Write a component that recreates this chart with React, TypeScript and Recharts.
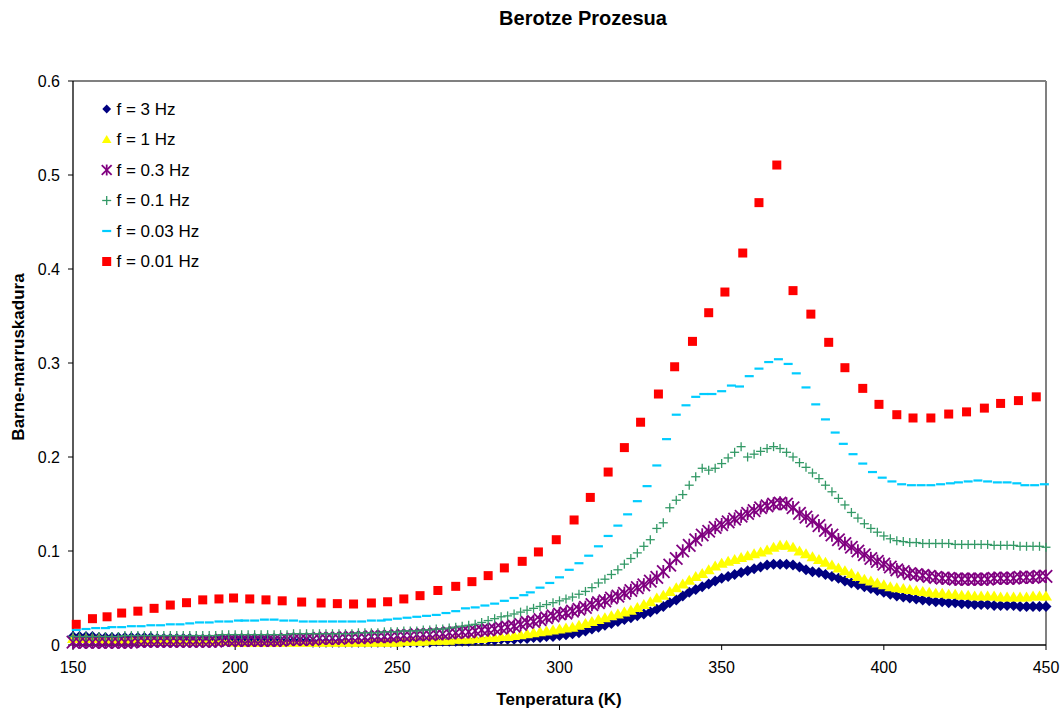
import React from 'react';
import { ScatterChart, Scatter, XAxis, YAxis, ReferenceLine } from 'recharts';

const FONT = '"Liberation Sans", Arial, sans-serif';
const W = 1061;
const H = 708;

// temperature grid of the dense series (K)
const tempGrid = [
  150, 152, 154, 156, 158, 160, 162, 164, 166, 168,
  170, 172, 174, 176, 178, 180, 182, 184, 186, 188,
  190, 192, 194, 196, 198, 200, 202, 204, 206, 208,
  210, 212, 214, 216, 218, 220, 222, 224, 226, 228,
  230, 232, 234, 236, 238, 240, 242, 244, 246, 248,
  250, 252, 254, 256, 258, 260, 262, 264, 266, 268,
  270, 272, 274, 276, 278, 280, 282, 284, 286, 288,
  290, 292, 294, 296, 298, 300, 302, 304, 306, 308,
  310, 312, 314, 316, 318, 320, 322, 324, 326, 328,
  330, 332, 334, 336, 338, 340, 342, 344, 346, 348,
  350, 352, 354, 356, 358, 360, 362, 364, 366, 368,
  370, 372, 374, 376, 378, 380, 382, 384, 386, 388,
  390, 392, 394, 396, 398, 400, 402, 404, 406, 408,
  410, 412, 414, 416, 418, 420, 422, 424, 426, 428,
  430, 432, 434, 436, 438, 440, 442, 444, 446, 448,
  450,
];

const f3Hz = [
  .009, .009, .009, .009, .008, .008, .008, .008, .008, .008,
  .008, .008, .008, .007, .007, .007, .007, .007, .007, .006,
  .006, .006, .006, .006, .005, .005, .005, .005, .005, .005,
  .005, .004, .004, .004, .004, .004, .004, .003, .003, .003,
  .003, .003, .003, .003, .003, .003, .003, .003, .003, .003,
  .003, .003, .003, .003, .003, .003, .004, .004, .004, .004,
  .004, .004, .005, .005, .005, .005, .006, .006, .006, .007,
  .007, .008, .008, .009, .009, .010, .011, .012, .013, .015,
  .017, .019, .021, .023, .025, .027, .029, .031, .033, .035,
  .038, .041, .045, .048, .052, .056, .059, .062, .065, .068,
  .071, .073, .075, .077, .079, .081, .083, .085, .086, .086,
  .086, .085, .083, .080, .078, .077, .075, .073, .071, .068,
  .066, .064, .062, .060, .058, .056, .054, .052, .051, .050,
  .049, .048, .047, .046, .046, .045, .045, .044, .044, .043,
  .043, .043, .042, .042, .042, .042, .041, .041, .041, .041,
  .041,
];

const f1Hz = [
  .007, .007, .007, .007, .007, .006, .006, .006, .006, .006,
  .006, .005, .005, .005, .005, .005, .005, .004, .004, .004,
  .004, .004, .004, .004, .004, .003, .003, .003, .003, .003,
  .003, .003, .003, .003, .003, .003, .003, .003, .003, .003,
  .003, .003, .003, .003, .003, .003, .003, .003, .003, .003,
  .003, .004, .004, .004, .004, .005, .005, .005, .005, .006,
  .006, .006, .007, .007, .008, .008, .009, .009, .010, .011,
  .012, .013, .014, .015, .016, .017, .018, .019, .021, .023,
  .025, .027, .029, .031, .033, .035, .037, .040, .043, .046,
  .050, .053, .057, .061, .065, .069, .073, .076, .080, .084,
  .087, .089, .091, .093, .095, .097, .099, .101, .104, .106,
  .106, .104, .100, .097, .094, .091, .088, .085, .082, .079,
  .076, .073, .070, .068, .066, .064, .062, .061, .060, .059,
  .058, .057, .056, .055, .055, .054, .054, .053, .053, .052,
  .052, .052, .052, .051, .051, .051, .051, .051, .052, .052,
  .052,
];

const f03Hz = [
  .003, .003, .003, .003, .003, .003, .003, .003, .003, .003,
  .004, .004, .004, .004, .004, .004, .004, .004, .004, .004,
  .004, .004, .004, .005, .005, .005, .005, .005, .005, .005,
  .005, .005, .005, .006, .006, .006, .006, .006, .007, .007,
  .007, .007, .008, .008, .008, .008, .009, .009, .009, .009,
  .010, .010, .010, .011, .011, .011, .012, .012, .013, .013,
  .014, .014, .015, .016, .016, .017, .018, .019, .020, .022,
  .024, .025, .027, .029, .031, .033, .034, .036, .038, .040,
  .043, .045, .047, .050, .052, .055, .058, .061, .064, .068,
  .072, .078, .085, .092, .100, .106, .112, .117, .121, .125,
  .128, .131, .134, .137, .140, .143, .146, .148, .150, .151,
  .150, .146, .140, .136, .132, .127, .122, .117, .112, .108,
  .104, .100, .096, .092, .089, .086, .083, .080, .078, .076,
  .075, .074, .073, .072, .071, .071, .070, .070, .070, .070,
  .070, .070, .071, .071, .071, .071, .072, .072, .072, .073,
  .073,
];

const f01Hz = [
  .009, .009, .009, .009, .009, .009, .009, .009, .010, .010,
  .010, .010, .010, .010, .010, .010, .010, .010, .010, .010,
  .010, .010, .010, .011, .011, .011, .011, .011, .011, .011,
  .011, .011, .011, .011, .012, .012, .012, .012, .012, .012,
  .012, .012, .012, .012, .013, .013, .013, .013, .014, .014,
  .014, .015, .015, .015, .016, .016, .017, .017, .018, .019,
  .020, .021, .022, .024, .026, .028, .030, .031, .033, .035,
  .037, .039, .041, .043, .045, .047, .049, .051, .054, .057,
  .061, .066, .070, .075, .080, .086, .092, .098, .105, .112,
  .124, .130, .146, .154, .160, .170, .179, .188, .186, .188,
  .193, .199, .205, .211, .200, .203, .206, .209, .211, .209,
  .205, .200, .194, .189, .183, .177, .170, .163, .156, .149,
  .141, .135, .129, .124, .120, .116, .113, .111, .110, .109,
  .109, .108, .108, .108, .108, .108, .107, .107, .107, .107,
  .107, .107, .106, .106, .106, .106, .105, .105, .105, .105,
  .104,
];

const f003Temps = [
  151, 154, 157, 160, 162, 165, 168, 171, 174, 177,
  180, 183, 186, 189, 192, 195, 198, 201, 203, 206,
  209, 212, 215, 218, 221, 224, 227, 230, 233, 236,
  239, 242, 245, 247, 250, 253, 256, 259, 262, 265,
  268, 271, 274, 277, 280, 283, 286, 289, 291, 294,
  297, 300, 303, 306, 309, 312,
  315, 318, 321, 324, 327, 330, 333, 336, 339, 342,
  344.5, 347, 350, 353, 355.5, 358.5, 361.5, 364.5, 367.5, 370.5,
  373, 376, 379, 382, 385, 387.5, 390.5, 393.5, 396.5, 399.5,
  402.5, 405.5, 408.5, 411.5, 414.5, 417.5, 420.5, 423, 426, 429,
  432, 435, 438, 441, 443.5, 446.5, 449.5,
];
const f003Hz = [
  .016, .017, .018, .018, .019, .019, .020, .020, .021, .021,
  .022, .022, .023, .024, .024, .025, .025, .026, .026, .026,
  .027, .027, .026, .026, .025, .025, .025, .025, .025, .025,
  .025, .026, .026, .027, .028, .029, .030, .031, .032, .034,
  .036, .039, .040, .042, .044, .047, .050, .053, .056, .061,
  .066, .072, .080, .087, .095, .105,
  .116, .127, .139, .153, .169, .191, .219, .245, .255, .264,
  .267, .267, .270, .276, .275, .286, .294, .301, .304, .299,
  .289, .274, .256, .240, .226, .214, .203, .193, .184, .178,
  .174, .171, .170, .170, .170, .171, .172, .173, .174, .175,
  .174, .173, .173, .172, .170, .170, .171,
];

const f001Temps = [
  151, 156, 160.5, 165, 170, 175, 180, 185, 190, 195,
  199.5, 204.5, 209.5, 214.5, 220.5, 226.5, 231.5, 236.5, 242, 247,
  252, 257, 262.5, 268, 273, 278, 283, 288.5, 293.5, 299,
  304.5, 309.5, 315, 320, 325, 330.5, 335.5, 341, 346, 351,
  356.5, 361.5, 367, 372, 377.5, 383, 388, 393.5, 398.5, 404,
  409, 414.5, 420, 425.5, 431, 436, 441.5, 447,
];
const f001Hz = [
  .022, .028, .030, .034, .036, .039, .0425, .045, .048, .049,
  .050, .049, .048, .047, .0457, .0447, .044, .0436, .0447, .046,
  .049, .0525, .058, .0624, .0674, .0738, .082, .089, .099, .112,
  .133, .157, .184, .210, .237, .267, .296, .323, .3535, .3755,
  .417, .4706, .5106, .377, .352, .322, .295, .273, .256, .245,
  .2415, .2415, .2457, .248, .252, .257, .260, .264,
];

const xTicks = [150, 200, 250, 300, 350, 400, 450];
const yTicks = [0, 0.1, 0.2, 0.3, 0.4, 0.5, 0.6];

const seriesNames = ['f = 3 Hz', 'f = 1 Hz', 'f = 0.3 Hz', 'f = 0.1 Hz', 'f = 0.03 Hz', 'f = 0.01 Hz'];
const seriesColors = ['#000080', '#FFFF00', '#800080', '#339966', '#00CCFF', '#FF0000'];
const seriesKinds = ['diamond', 'triangle', 'star', 'plus', 'dash', 'square'];

const zip = (ts: number[], vs: number[]) => ts.map((t, i) => ({ t, v: vs[i] }));

// s = scale: 1 for the plotted points, smaller for the legend keys
function marker(kind: string, cx: number, cy: number, color: string, s = 1) {
  if (cx == null || cy == null) return <g />;
  switch (kind) {
    case 'diamond': {
      const r = 5.5 * s;
      return <polygon points={`${cx},${cy - r} ${cx + r},${cy} ${cx},${cy + r} ${cx - r},${cy}`} fill={color} />;
    }
    case 'triangle':
      return <polygon points={`${cx},${cy - 5.5 * s} ${cx + 6 * s},${cy + 4.5 * s} ${cx - 6 * s},${cy + 4.5 * s}`} fill={color} />;
    case 'star': {
      const r = 6.2 * s;
      return (
        <g stroke={color} strokeWidth={1.8}>
          <line x1={cx - r} y1={cy - r} x2={cx + r} y2={cy + r} />
          <line x1={cx - r} y1={cy + r} x2={cx + r} y2={cy - r} />
          <line x1={cx} y1={cy - r - 0.5} x2={cx} y2={cy + r + 0.5} />
        </g>
      );
    }
    case 'plus':
      return (
        <g stroke={color} strokeWidth={1.3}>
          <line x1={cx - 4.5} y1={cy} x2={cx + 4.5} y2={cy} />
          <line x1={cx} y1={cy - 4.5} x2={cx} y2={cy + 4.5} />
        </g>
      );
    case 'dash':
      return <rect x={cx - 4.5} y={cy - 1.1} width={9} height={2.2} fill={color} />;
    default:
      return <rect x={cx - 4.5} y={cy - 4.5} width={9} height={9} fill={color} />;
  }
}

const seriesData = [
  zip(tempGrid, f3Hz),
  zip(tempGrid, f1Hz),
  zip(tempGrid, f03Hz),
  zip(tempGrid, f01Hz),
  zip(f003Temps, f003Hz),
  zip(f001Temps, f001Hz),
];

const legendRows = [109, 139.5, 170, 200.5, 231, 261.5];

export default function App() {
  const tick = { fill: '#000', fontSize: 16, fontFamily: FONT };
  return (
    <div style={{ position: 'absolute', left: 0, top: 0, width: W, height: H, background: '#fff', fontFamily: FONT }}>
      <ScatterChart width={W} height={H} margin={{ top: 81, right: 15, bottom: 0, left: 0 }}>
        <XAxis
          type="number"
          dataKey="t"
          domain={[150, 450]}
          ticks={xTicks}
          interval={0}
          height={63}
          tickSize={5}
          tickMargin={12}
          axisLine={{ stroke: '#000', strokeWidth: 1.3 }}
          tickLine={{ stroke: '#000' }}
          tick={tick}
        />
        <YAxis
          type="number"
          dataKey="v"
          domain={[0, 0.6]}
          ticks={yTicks}
          interval={0}
          width={73}
          tickSize={5}
          tickMargin={8}
          axisLine={{ stroke: '#000', strokeWidth: 1.3 }}
          tickLine={{ stroke: '#000' }}
          tick={tick}
          tickFormatter={(v: number) => String(+v.toFixed(1))}
        />
        <ReferenceLine y={0.6} stroke="#808080" strokeWidth={2} />
        <ReferenceLine x={450} stroke="#808080" strokeWidth={2} />
        {seriesData.map((d, i) => (
          <Scatter
            key={seriesNames[i]}
            name={seriesNames[i]}
            data={d}
            isAnimationActive={false}
            shape={(p: any) => marker(seriesKinds[i], p.cx, p.cy, seriesColors[i])}
          />
        ))}
      </ScatterChart>
      <svg width={W} height={H} style={{ position: 'absolute', left: 0, top: 0, pointerEvents: 'none' }}>
        <text x={583} y={18} textAnchor="middle" dominantBaseline="central" fontSize={20} fontWeight="bold" fontFamily={FONT}>
          Berotze Prozesua
        </text>
        <text x={559} y={699} textAnchor="middle" dominantBaseline="central" fontSize={17} fontWeight="bold" fontFamily={FONT}>
          Tenperatura (K)
        </text>
        <text transform="translate(18,357) rotate(-90)" textAnchor="middle" dominantBaseline="central" fontSize={17} fontWeight="bold" fontFamily={FONT}>
          Barne-marruskadura
        </text>
        {seriesNames.map((n, i) => (
          <g key={n}>
            {marker(seriesKinds[i], 106.7, legendRows[i], seriesColors[i], 0.8)}
            <text x={116.5} y={legendRows[i]} dominantBaseline="central" fontSize={17} fontFamily={FONT}>
              {n}
            </text>
          </g>
        ))}
      </svg>
    </div>
  );
}
